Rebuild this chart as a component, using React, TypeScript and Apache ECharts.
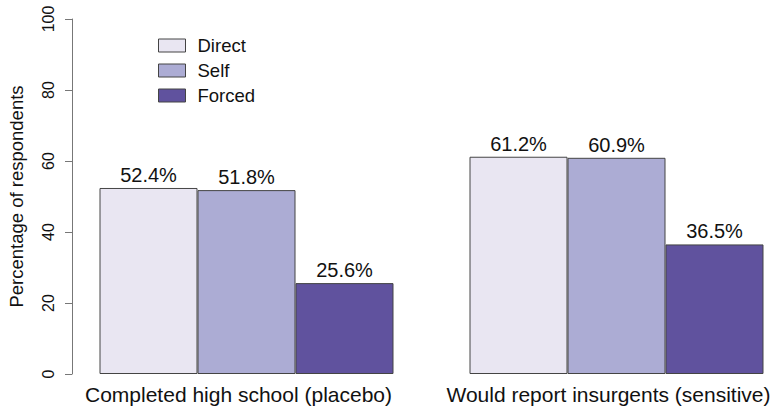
import React, { useEffect, useRef } from "react";
import * as echarts from "echarts";

const categories = ["Completed high school (placebo)", "Would report insurgents (sensitive)"];
const seriesNames = ["Direct", "Self", "Forced"];
const directValues = [52.4, 61.2];
const selfValues = [51.8, 60.9];
const forcedValues = [25.6, 36.5];
const colors = ["#E9E6F2", "#ACACD4", "#60529E"];
const yTicks = [0, 20, 40, 60, 80, 100];

export default function App() {
  const ref = useRef<HTMLDivElement>(null);
  useEffect(() => {
    document.body.style.margin = "0";
    const chart = echarts.init(ref.current!, null, { renderer: "svg" });
    const font = "Liberation Sans, Arial, sans-serif";
    const allValues = [directValues, selfValues, forcedValues];
    chart.setOption({
      animation: false,
      backgroundColor: "#ffffff",
      textStyle: { fontFamily: font },
      grid: { left: 246.5, top: 19, width: 370, height: 355 },
      legend: {
        orient: "vertical",
        left: 153,
        top: 31,
        itemWidth: 27,
        itemHeight: 13,
        itemGap: 6,
        icon: "rect",
        textStyle: { fontSize: 18.5, color: "#111", fontFamily: font, padding: [0, 0, 0, 7] },
        itemStyle: { borderColor: "#444", borderWidth: 1 },
        data: seriesNames,
      },
      xAxis: {
        type: "category",
        data: categories,
        boundaryGap: false,
        axisLine: { show: false },
        axisTick: { show: false },
        axisLabel: {
          fontSize: 21,
          color: "#111",
          margin: 10,
          interval: 0,
          showMinLabel: true,
          showMaxLabel: true,
          hideOverlap: false,
          padding: [0, 16, 0, 0],
          fontFamily: font,
        },
      },
      yAxis: {
        type: "value",
        min: 0,
        max: 100,
        interval: 20,
        offset: 174.5,
        name: "Percentage of respondents",
        nameLocation: "middle",
        nameGap: 46,
        nameTextStyle: { fontSize: 18.5, color: "#111", fontFamily: font },
        axisLine: { show: true, lineStyle: { color: "#777", width: 1 } },
        axisTick: { show: true, length: 7, lineStyle: { color: "#777" } },
        splitLine: { show: false },
        axisLabel: {
          fontSize: 16,
          color: "#111",
          rotate: 90,
          margin: 16,
          fontFamily: font,
          formatter: (v: number) => (yTicks.includes(v) ? String(v) : ""),
        },
      },
      series: seriesNames.map((name, i) => ({
        name,
        type: "bar",
        data: allValues[i],
        barWidth: 98,
        barGap: "0%",
        itemStyle: { color: colors[i], borderColor: "#444", borderWidth: 1 },
        label: {
          show: true,
          position: "top",
          distance: 3,
          fontSize: 20,
          color: "#111",
          fontFamily: font,
          formatter: (p: any) => p.value.toFixed(1) + "%",
        },
      })),
    });
    return () => chart.dispose();
  }, []);
  return <div ref={ref} style={{ width: 779, height: 411 }} />;
}
